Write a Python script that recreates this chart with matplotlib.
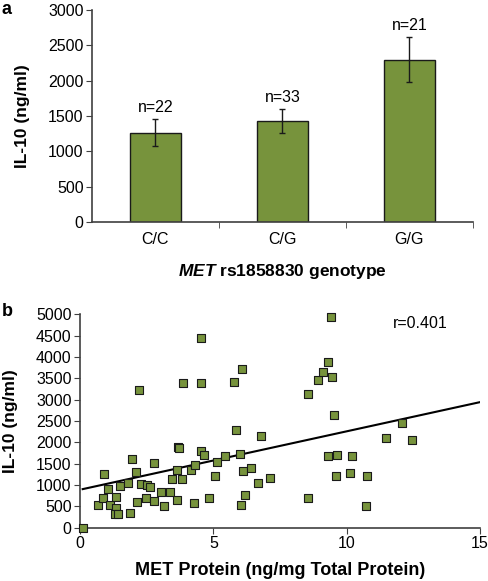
import numpy as np
import matplotlib
matplotlib.use('Agg')
import matplotlib.pyplot as plt

plt.rcParams['font.family'] = ['Liberation Sans', 'DejaVu Sans']
plt.rcParams['mathtext.fontset'] = 'custom'
plt.rcParams['mathtext.bfit'] = 'Liberation Sans:italic:bold'
plt.rcParams['mathtext.rm'] = 'Liberation Sans:bold'

# panel a: IL-10 by genotype
genotypes = ['C/C', 'C/G', 'G/G']
il10_mean = [1265, 1430, 2295]
il10_err = [190, 168, 322]
n_labels = ['n=22', 'n=33', 'n=21']

# panel b: IL-10 vs MET protein
met_protein = [0.12, 0.9, 0.69, 0.87, 1.05, 1.12, 1.35, 1.34, 1.31, 1.41,
               1.51, 1.8, 1.89, 1.94, 2.09, 2.12, 2.22, 2.27, 2.47, 2.5,
               2.64, 2.76, 2.79, 3.04, 3.16, 3.36, 3.46, 3.64, 3.64, 3.69,
               3.72, 3.82, 3.87, 4.16, 4.27, 4.3, 4.54, 4.55, 4.55, 4.64,
               4.84, 5.07, 5.12, 5.45, 5.76, 5.85, 5.99, 6.02, 6.06, 6.11,
               6.19, 6.42, 6.66, 6.8, 7.11, 8.54, 8.55, 8.94, 9.1, 9.31,
               9.41, 9.45, 9.54, 9.29, 9.62, 9.6, 10.19, 10.12, 10.75, 10.72,
               11.46, 12.07, 12.44]
il10_level = [0, 1257, 523, 703, 906, 523, 726, 453, 312, 312,
              976, 1039, 351, 1617, 1296, 609, 3233, 1031, 703, 1007,
              945, 633, 1507, 836, 508, 828, 1132, 640, 1351, 1898,
              1867, 1140, 3382, 1351, 586, 1460, 3390, 4444, 1804, 1703,
              703, 1210, 1546, 1679, 3421, 2280, 1726, 539, 3725, 1335,
              773, 1390, 1039, 2145, 1160, 3140, 703, 3460, 3640, 3889,
              4936, 3538, 2632, 1679, 1710, 1218, 1679, 1273, 1218, 515,
              2109, 2460, 2046]
fit_x = [0.1, 15]
fit_y = [905, 2945]

bar_color = '#77933c'
axis_color = '#404040'
fs = 11.5
fs_lab = 12.5

fig = plt.figure(figsize=(4.89, 5.81), dpi=100)

### panel a
ax1 = fig.add_axes([0.188, 0.618, 0.779, 0.365])
x = np.arange(len(genotypes))
ax1.bar(x, il10_mean, width=0.4, color=bar_color, edgecolor='#1a1a1a', linewidth=1.0, zorder=2)
ax1.errorbar(x, il10_mean, yerr=il10_err, fmt='none', ecolor='#1a1a1a', elinewidth=1.0, capsize=2, capthick=1.0, zorder=3)
for xi, m, e, lab in zip(x, il10_mean, il10_err, n_labels):
    ax1.annotate(lab, (xi, m + e), textcoords='offset points', xytext=(0, 3), ha='center', va='bottom', fontsize=fs)
ax1.set_xlim(-0.5, 2.5)
ax1.set_ylim(0, 3000)
ax1.set_yticks(np.arange(0, 3001, 500))
ax1.set_xticks(x)
ax1.set_xticklabels(genotypes, fontsize=fs)
ax1.set_xticks([0.5, 1.5, 2.5], minor=True)
ax1.tick_params(axis='x', which='major', length=0, pad=7)
ax1.tick_params(axis='x', which='minor', length=4, direction='out', color=axis_color)
ax1.tick_params(axis='y', length=4, direction='out', labelsize=fs, color=axis_color, pad=2)
ax1.set_ylabel('IL-10 (ng/ml)', fontsize=fs_lab, fontweight='bold')
ax1.yaxis.set_label_coords(-0.163, 0.5)
ax1.set_xlabel(r'$\mathbfit{MET}$ rs1858830 genotype', fontsize=fs_lab, fontweight='bold', labelpad=11)
for s in ['top', 'right']:
    ax1.spines[s].set_visible(False)
for s in ['left', 'bottom']:
    ax1.spines[s].set_color(axis_color)
    ax1.spines[s].set_linewidth(1.2)

### panel b
ax2 = fig.add_axes([0.1636, 0.0917, 0.818, 0.367])
ax2.plot(fit_x, fit_y, color='black', linewidth=1.5, zorder=2)
ax2.scatter(met_protein, il10_level, marker='s', s=26, color=bar_color, edgecolors='#1a1a1a', linewidths=0.8, zorder=3, clip_on=False)
ax2.set_xlim(0, 15)
ax2.set_ylim(0, 5000)
ax2.set_xticks([0, 5, 10, 15])
ax2.set_yticks(np.arange(0, 5001, 500))
ax2.tick_params(axis='both', length=4, direction='out', labelsize=fs, color=axis_color, pad=2)
ax2.set_xlabel('MET Protein (ng/mg Total Protein)', fontsize=13, fontweight='bold', labelpad=8)
ax2.set_ylabel('IL-10 (ng/ml)', fontsize=fs_lab, fontweight='bold')
ax2.yaxis.set_label_coords(-0.155, 0.5)
ax2.text(0.85, 0.96, 'r=0.401', transform=ax2.transAxes, ha='center', va='center', fontsize=fs)
for s in ['top', 'right']:
    ax2.spines[s].set_visible(False)
for s in ['left', 'bottom']:
    ax2.spines[s].set_color(axis_color)
    ax2.spines[s].set_linewidth(1.2)

fig.text(0.004, 0.998, 'a', fontsize=13, fontweight='bold', va='top')
fig.text(0.004, 0.478, 'b', fontsize=13, fontweight='bold', va='top')

fig.savefig('out.png', dpi=100)
